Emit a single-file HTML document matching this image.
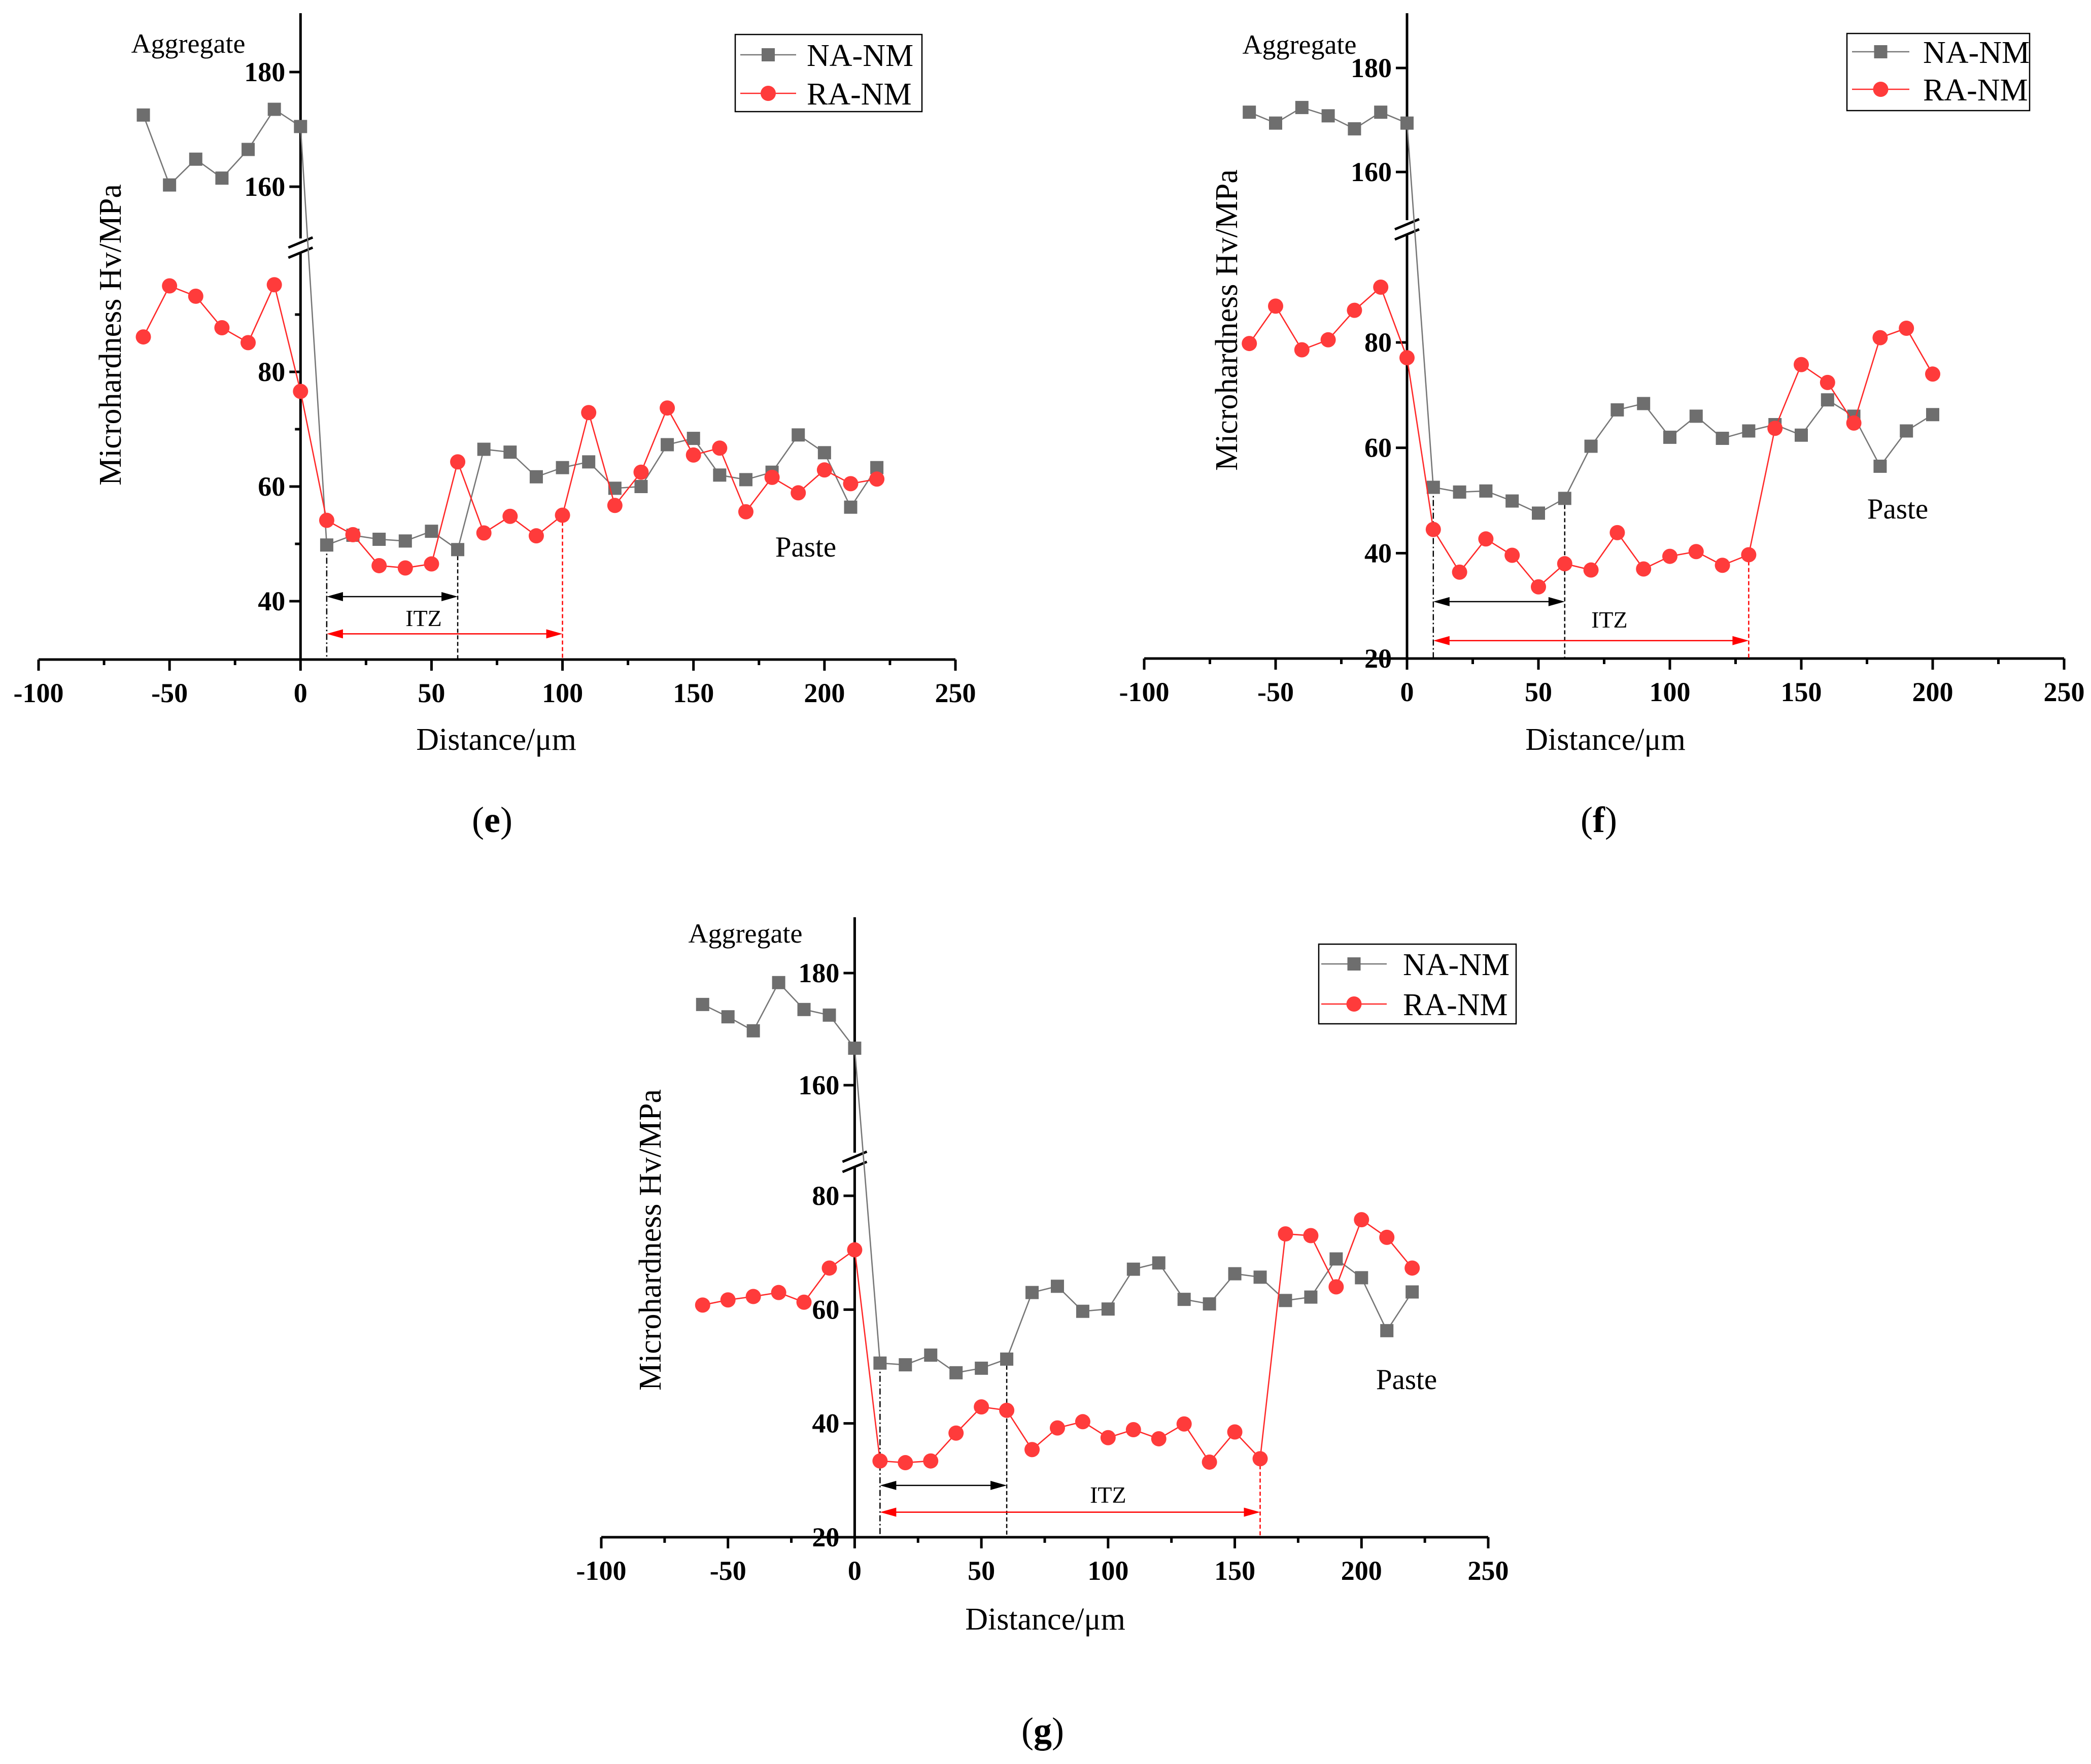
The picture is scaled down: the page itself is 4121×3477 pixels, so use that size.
<!DOCTYPE html>
<html><head><meta charset="utf-8"><style>
html,body{margin:0;padding:0;background:#fff}
svg{display:block;font-family:"Liberation Serif","Times New Roman",serif}
svg text{font-family:"Liberation Serif","Times New Roman",serif}
</style></head><body>
<svg id="svg" width="4121" height="3477" viewBox="0 0 4121 3477" xmlns="http://www.w3.org/2000/svg" font-family="Liberation Serif, serif"></svg>
<script>
// ---- data ----
const xAgg = [-60,-50,-40,-30,-20,-10,0];
const xPasteE = [10,20,30,40,50,60,70,80,90,100,110,120,130,140,150,160,170,180,190,200,210,220];
const xPasteF = [10,20,30,40,50,60,70,80,90,100,110,120,130,140,150,160,170,180,190,200];
const xTicks = [-100,-50,0,50,100,150,200,250];
const xTickLabels = ["-100","-50","0","50","100","150","200","250"];

const naE = [172.5,160.3,164.8,161.5,166.5,173.5,170.5, 49.8,51.5,50.8,50.5,52.2,49,66.5,66,61.7,63.3,64.3,59.7,60,67.3,68.4,62,61.2,62.5,69,65.9,56.4,63.3];
const raE = [86.1,95.0,93.2,87.7,85.1,95.2,76.6, 54.1,51.6,46.2,45.8,46.5,64.3,51.9,54.8,51.4,55.0,72.9,56.7,62.5,73.7,65.5,66.7,55.6,61.6,58.9,62.9,60.5,61.3];
const naF = [171.5,169.4,172.4,170.8,168.3,171.5,169.4, 52.5,51.6,51.8,49.9,47.6,50.4,60.3,67.2,68.4,62.0,66.0,61.8,63.2,64.4,62.4,69.1,66.0,56.5,63.2,66.3];
const raF = [79.8,86.9,78.6,80.5,86.1,90.5,77.1, 44.5,36.4,42.7,39.6,33.6,38.0,36.8,43.9,37.0,39.4,40.3,37.7,39.7,63.7,75.8,72.4,64.7,80.9,82.7,74.0];
const naG = [174.4,172.2,169.7,178.3,173.5,172.5,166.6, 50.6,50.3,52.0,48.9,49.7,51.3,63.0,64.1,59.7,60.1,67.1,68.2,61.8,61.0,66.3,65.7,61.6,62.2,68.9,65.6,56.3,63.1];
const raG = [60.8,61.7,62.3,63.0,61.3,67.3,70.5, 33.4,33.1,33.4,38.3,42.9,42.3,35.4,39.2,40.3,37.5,38.9,37.3,39.9,33.2,38.5,33.8,73.3,73.0,64.0,75.8,72.7,67.3];

const itzE = [10,60,100];
const itzF = [10,60,130];
const itzG = [10,60,160];

// ---- layout ----
const NS="http://www.w3.org/2000/svg";
const svg=document.getElementById('svg');
const FF='"Liberation Serif", serif';
function el(tag,attrs,parent,txt){const e=document.createElementNS(NS,tag);for(const k in attrs)e.setAttribute(k,attrs[k]);if(tag==='text')e.setAttribute('font-family',FF);if(txt!==undefined)e.textContent=txt;(parent||svg).appendChild(e);return e;}

const panels=[
 {id:'e',xm100:76,x250:1883,yBot:1300,lo:{v1:40,p1:1185,v2:80,p2:733},up:{v1:160,p1:368,v2:180,p2:142},brk:488,top:26,
  loTicks:[40,60,80],upTicks:[160,180],loMinor:[50,70,90],na:naE,ra:raE,xs:xAgg.concat(xPasteE),itz:itzE,arrB:40.8,arrR:34.3,itzTxt:[47,37.1],
  legend:{x1:1449,y1:68,x2:1817,y2:220,r1:108,r2:184,l1:1459,l2:1569,tx:1590},agg:[371,104],paste:[1588,1097],ylab:[218,660],xlab:[978,1478],cap:[970,1640]},
 {id:'f',xm100:2255,x250:4068,yBot:1298,lo:{v1:20,p1:1298,v2:80,p2:675},up:{v1:160,p1:339,v2:180,p2:134},brk:452,top:26,
  loTicks:[20,40,60,80],upTicks:[160,180],loMinor:[],na:naF,ra:raF,xs:xAgg.concat(xPasteF),itz:itzF,arrB:30.8,arrR:23.4,itzTxt:[77,27.4],
  legend:{x1:3640,y1:66,x2:4000,y2:218,r1:102,r2:176,l1:3650,l2:3763,tx:3790},agg:[2561,106],paste:[3740,1022],ylab:[2418,631],xlab:[3164,1478],cap:[3151,1640]},
 {id:'g',xm100:1185,x250:2933,yBot:3030,lo:{v1:20,p1:3030,v2:80,p2:2357},up:{v1:160,p1:2139,v2:180,p2:1918},brk:2290,top:1808,
  loTicks:[20,40,60,80],upTicks:[160,180],loMinor:[],na:naG,ra:raG,xs:xAgg.concat(xPasteE),itz:itzG,arrB:29.1,arrR:24.4,itzTxt:[100,27.5],
  legend:{x1:2599,y1:1861,x2:2988,y2:2018,r1:1900,r2:1979,l1:2604,l2:2733,tx:2765},agg:[1469,1858],paste:[2772,2738],ylab:[1282,2444],xlab:[2060,3212],cap:[2055,3435]}
];

panels.forEach(P=>{
  const g=el('g',{});
  
  
  const X=v=>P.xm100+(v+100)*(P.x250-P.xm100)/350;
  const loY=v=>P.lo.p1+(v-P.lo.v1)*(P.lo.p2-P.lo.p1)/(P.lo.v2-P.lo.v1);
  const upY=v=>P.up.p1+(v-P.up.v1)*(P.up.p2-P.up.p1)/(P.up.v2-P.up.v1);
  const upMin=P.up.v1-(P.brk-P.up.p1)/((P.up.p1-P.up.p2)/(P.up.v2-P.up.v1));
  const Y=v=>v>=upMin?upY(v):loY(v);
  const ax=X(0);
  const yax=el('line',{x1:ax,y1:P.top,x2:ax,y2:P.yBot,stroke:'#000','stroke-width':5},g);
  
  const xax=el('line',{x1:X(-100),y1:P.yBot,x2:X(250),y2:P.yBot,stroke:'#000','stroke-width':5},g);
  
  const bw=el('rect',{x:ax-28,y:P.brk-18,width:56,height:30,fill:'#fff'},g);
  
  [-10,10].forEach(d=>{
    const b=el('line',{x1:ax-24,y1:P.brk+d+10,x2:ax+24,y2:P.brk+d-10,stroke:'#000','stroke-width':5},g);
    
  });
  xTicks.forEach((t,i)=>{
    el('line',{x1:X(t),y1:P.yBot,x2:X(t),y2:P.yBot+22,stroke:'#000','stroke-width':5},g);
    if(i<xTicks.length-1){el('line',{x1:X(t+25),y1:P.yBot,x2:X(t+25),y2:P.yBot+11,stroke:'#000','stroke-width':5},g);}
    const tl=el('text',{x:X(t),y:P.yBot+84,'font-size':54,'font-weight':'bold','text-anchor':'middle'},g,xTickLabels[i]);
    
  });
  P.loTicks.forEach(t=>{
    el('line',{x1:ax-22,y1:loY(t),x2:ax,y2:loY(t),stroke:'#000','stroke-width':5},g);
    const tl=el('text',{x:ax-30,y:loY(t)+18,'font-size':54,'font-weight':'bold','text-anchor':'end'},g,String(t));
    
  });
  P.loMinor.forEach(t=>{el('line',{x1:ax-11,y1:loY(t),x2:ax,y2:loY(t),stroke:'#000','stroke-width':5},g);});
  P.upTicks.forEach(t=>{
    el('line',{x1:ax-22,y1:upY(t),x2:ax,y2:upY(t),stroke:'#000','stroke-width':5},g);
    const tl=el('text',{x:ax-30,y:upY(t)+18,'font-size':54,'font-weight':'bold','text-anchor':'end'},g,String(t));
    
  });
  const naAt=x=>P.na[P.xs.indexOf(x)], raAt=x=>P.ra[P.xs.indexOf(x)];
  const v1=el('line',{x1:X(P.itz[0]),y1:Y(naAt(P.itz[0])),x2:X(P.itz[0]),y2:P.yBot,stroke:'#000','stroke-width':2.5,'stroke-dasharray':'12 5 3 5'},g);
  
  const v2=el('line',{x1:X(P.itz[1]),y1:Y(naAt(P.itz[1])),x2:X(P.itz[1]),y2:P.yBot,stroke:'#000','stroke-width':2.5,'stroke-dasharray':'8 5'},g);
  
  const v3=el('line',{x1:X(P.itz[2]),y1:Y(raAt(P.itz[2])),x2:X(P.itz[2]),y2:P.yBot,stroke:'#f00','stroke-width':2.5,'stroke-dasharray':'8 5'},g);
  
  function arrow(x1,x2,y,c,name){
    const a=el('g',{},g);
    
    el('line',{x1:X(x1)+20,y1:y,x2:X(x2)-20,y2:y,stroke:c,'stroke-width':2.5},a);
    el('polygon',{points:`${X(x1)},${y} ${X(x1)+32},${y-9} ${X(x1)+32},${y+9}`,fill:c},a);
    el('polygon',{points:`${X(x2)},${y} ${X(x2)-32},${y-9} ${X(x2)-32},${y+9}`,fill:c},a);
  }
  arrow(P.itz[0],P.itz[1],loY(P.arrB),'#000','itz-na-arrow');
  arrow(P.itz[0],P.itz[2],loY(P.arrR),'#f00','itz-ra-arrow');
  const it=el('text',{x:X(P.itzTxt[0]),y:loY(P.itzTxt[1])+16,'font-size':46,'text-anchor':'middle'},g,'ITZ');
  
  function series(vals,color,lineColor,shape,name){
    const sg=el('g',{},g);
    
    const pts=vals.map((v,i)=>X(P.xs[i])+','+Y(v)).join(' ');
    el('polyline',{points:pts,fill:'none',stroke:lineColor,'stroke-width':2.6},sg);
    vals.forEach((v,i)=>{
      let m;
      if(shape==='sq') m=el('rect',{x:X(P.xs[i])-13,y:Y(v)-13,width:26,height:26,fill:color},sg);
      else m=el('ellipse',{cx:X(P.xs[i]),cy:Y(v),rx:15,ry:15,fill:color},sg);
      
      
    });
  }
  series(P.na,'#6e6e6e','#777','sq','na-nm-series');
  series(P.ra,'#ff3b3b','#ff2a2a','ci','ra-nm-series');
  const L=P.legend;
  const lg=el('g',{},g);
  
  el('rect',{x:L.x1,y:L.y1,width:L.x2-L.x1,height:L.y2-L.y1,fill:'#fff',stroke:'#000','stroke-width':2.5},lg);
  const lm=(L.l1+L.l2)/2;
  el('line',{x1:L.l1,y1:L.r1,x2:L.l2,y2:L.r1,stroke:'#777','stroke-width':2.6},lg);
  el('rect',{x:lm-13,y:L.r1-13,width:26,height:26,fill:'#6e6e6e'},lg);
  const t1=el('text',{x:L.tx,y:L.r1+22,'font-size':62},lg,'NA-NM');
  
  el('line',{x1:L.l1,y1:L.r2,x2:L.l2,y2:L.r2,stroke:'#ff2a2a','stroke-width':2.6},lg);
  el('ellipse',{cx:lm,cy:L.r2,rx:15,ry:15,fill:'#ff3b3b'},lg);
  const t2=el('text',{x:L.tx,y:L.r2+22,'font-size':62},lg,'RA-NM');
  
  const ag=el('text',{x:P.agg[0],y:P.agg[1],'font-size':54,'text-anchor':'middle'},g,'Aggregate');
  
  const ps=el('text',{x:P.paste[0],y:P.paste[1],'font-size':57,'text-anchor':'middle'},g,'Paste');
  
  const yl=el('text',{x:0,y:0,'font-size':62,'text-anchor':'middle',transform:`translate(${P.ylab[0]+20},${P.ylab[1]}) rotate(-90)`},g,'Microhardness Hv/MPa');
  
  const xl=el('text',{x:P.xlab[0],y:P.xlab[1],'font-size':62,'text-anchor':'middle'},g,'Distance/μm');
  
  const cp=el('text',{x:P.cap[0],y:P.cap[1],'font-size':72,'text-anchor':'middle'},g);
  
  el('tspan',{},cp,'(');
  el('tspan',{'font-weight':'bold'},cp,P.id);
  el('tspan',{},cp,')');
});
</script>
</body></html>
